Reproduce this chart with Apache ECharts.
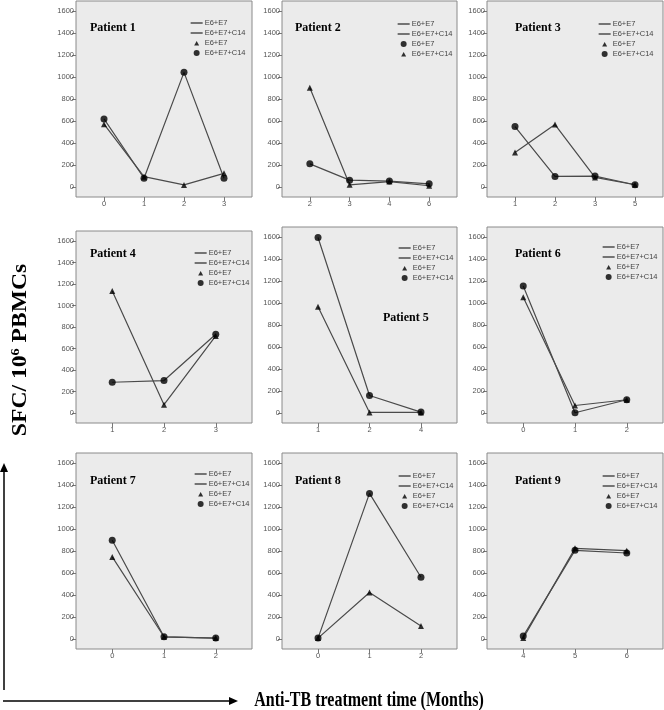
<!DOCTYPE html>
<html><head><meta charset="utf-8">
<script src="https://cdn.jsdelivr.net/npm/echarts@6/dist/echarts.min.js"></script>
<style>html,body{margin:0;padding:0;background:#fff}#c{width:664px;height:710px}</style>
</head><body><div id="c"></div>
<script>
// ---- data ----
const patientNames = ['Patient 1','Patient 2','Patient 3','Patient 4','Patient 5','Patient 6','Patient 7','Patient 8','Patient 9'];
const monthLabels = [['0','1','2','3'],['2','3','4','6'],['1','2','3','5'],['1','2','3'],['1','2','4'],['0','1','2'],['0','1','2'],['0','1','2'],['4','5','6']];
const e6e7 = [[571,95,20,125],[211,63,55,30],[314,568,88,21],[1135,77,717],[966,6,6],[1051,69,121],[746,21,9],[9,423,118],[9,824,803]];
const e6e7c14 = [[619,80,1042,80],[903,21,50,12],[550,97,100,21],[286,302,732],[1595,160,9],[1154,3,121],[897,21,9],[9,1323,562],[27,806,782]];
const yTicks = [0,200,400,600,800,1000,1200,1400,1600];
const e6e7Symbol = ['triangle','circle','triangle','triangle','triangle','triangle','triangle','triangle','triangle'];
const seriesNames = ['E6+E7','E6+E7+C14'];

// ---- layout ----
const colLeft = [76,282,487], colWidth = [176,175,176];
const gridTop = [1,1,1,231,227,227,453,453,453];
const gridHeight = [196,196,196,192,196,196,196,196,196];
const yMin = [-90,-90,-90,-93,-90,-90,-90,-90,-90];
const yMax = [1690,1690,1690,1693,1690,1690,1690,1690,1690];
const titlePos = [[90,22],[295,22],[515,22],[90,248],[383,312],[515,248],[90,475],[295,475],[515,475]];
const legendPos = [[190,19],[397,20],[598,20],[194,249],[398,244],[602,243],[194,470],[398,472],[602,472]];

const grids=[], xAxes=[], yAxes=[], series=[], legends=[], titles=[];
const lineColor = '#4a4a4a';
const triIcon = 'path://M0,0M12,6M3.5,5.5L6,1L8.5,5.5Z';
for (let p=0;p<9;p++){
  const c = p%3;
  const n = monthLabels[p].length;
  const idx = monthLabels[p].map((_,i)=>i);
  grids.push({left:colLeft[c], width:colWidth[c], top:gridTop[p], height:gridHeight[p], show:true,
    backgroundColor:'#ebebeb', borderColor:'#8a8a8a', borderWidth:1});
  xAxes.push({type:'value', gridIndex:p, min:-0.7, max:n-0.3,
    axisLine:{show:false, onZero:false}, splitLine:{show:false},
    axisTick:{show:true, customValues:idx, length:4, lineStyle:{color:'#777'}},
    axisLabel:{customValues:idx, formatter:v=>monthLabels[p][Math.round(v)], fontSize:7.5, color:'#555', margin:3, fontFamily:'Liberation Sans'}});
  yAxes.push({type:'value', gridIndex:p, min:yMin[p], max:yMax[p],
    axisLine:{show:false, onZero:false}, splitLine:{show:false},
    axisTick:{show:true, customValues:yTicks, length:4, lineStyle:{color:'#777'}},
    axisLabel:{customValues:yTicks, formatter:v=>String(v), fontSize:7.5, color:'#555', margin:2, fontFamily:'Liberation Sans'}});
  const vals = [e6e7[p], e6e7c14[p]];
  const syms = [e6e7Symbol[p], e6e7Symbol[p]==='triangle'?'circle':'triangle'];
  const legendData = [];
  for (let s=0;s<2;s++){
    const nm = seriesNames[s]+'#L'+p;
    legendData.push({name:nm, itemStyle:{color:'rgba(0,0,0,0)', borderWidth:0}, lineStyle:{color:'#333', width:1.3}});
    series.push({type:'line', name:nm, xAxisIndex:p, yAxisIndex:p, symbol:'none', silent:true,
      data: idx.map(i=>[i, vals[s][i]]),
      lineStyle:{color:lineColor, width:1.2}, itemStyle:{color:lineColor}});
  }
  for (let s=0;s<2;s++){
    const nm = seriesNames[s]+'#M'+p;
    legendData.push(syms[s]==='triangle' ? {name:nm, icon:triIcon} : {name:nm});
    series.push({type:'scatter', name:nm, xAxisIndex:p, yAxisIndex:p, symbol:syms[s], silent:true,
      symbolSize: syms[s]==='circle'?7:6,
      data: idx.map(i=>[i, vals[s][i]]), itemStyle:{color:'#000'}, z:3});
  }
  legends.push({left:legendPos[p][0], top:legendPos[p][1], orient:'vertical', padding:0,
    itemWidth:12, itemHeight:6, itemGap:2, selectedMode:false, data:legendData, symbolKeepAspect:true,
    formatter:nm=>nm.split('#')[0],
    textStyle:{fontSize:7.5, lineHeight:8, color:'#444', fontFamily:'Liberation Sans', padding:[0,0,0,-3]}});
  titles.push({text:patientNames[p], left:titlePos[p][0], top:titlePos[p][1], padding:0,
    textStyle:{fontFamily:'Liberation Serif', fontWeight:'bold', fontSize:12, color:'#000'}});
}

const chart = echarts.init(document.getElementById('c'), null, {renderer:'canvas'});
chart.setOption({
  animation:false,
  backgroundColor:'#fff',
  title:titles, legend:legends, grid:grids, xAxis:xAxes, yAxis:yAxes, series:series,
  graphic:[
    {type:'line', shape:{x1:4,y1:470,x2:4,y2:690}, style:{stroke:'#000', lineWidth:1.5}},
    {type:'polygon', shape:{points:[[4,463],[0,472],[8,472]]}, style:{fill:'#000'}},
    {type:'line', shape:{x1:3,y1:701,x2:231,y2:701}, style:{stroke:'#000', lineWidth:1.5}},
    {type:'polygon', shape:{points:[[238,701],[229,697],[229,705]]}, style:{fill:'#000'}},
    {type:'text', x:369, y:701, scaleX:0.8, style:{text:'Anti-TB treatment time (Months)', align:'center', verticalAlign:'middle',
      font:'bold 20px "Liberation Serif"', fill:'#000'}},
    {type:'text', x:21, y:350, rotation:Math.PI/2, scaleX:1.18, style:{text:'{a|SFC/ 10}{s|6}{a| PBMCs}', align:'center', verticalAlign:'middle',
      rich:{a:{fontSize:20, fontWeight:'bold', fontFamily:'Liberation Serif', color:'#000', lineHeight:22},
            s:{fontSize:12, fontWeight:'bold', fontFamily:'Liberation Serif', color:'#000', verticalAlign:'top', lineHeight:22}}}}
  ]
});
</script></body></html>
